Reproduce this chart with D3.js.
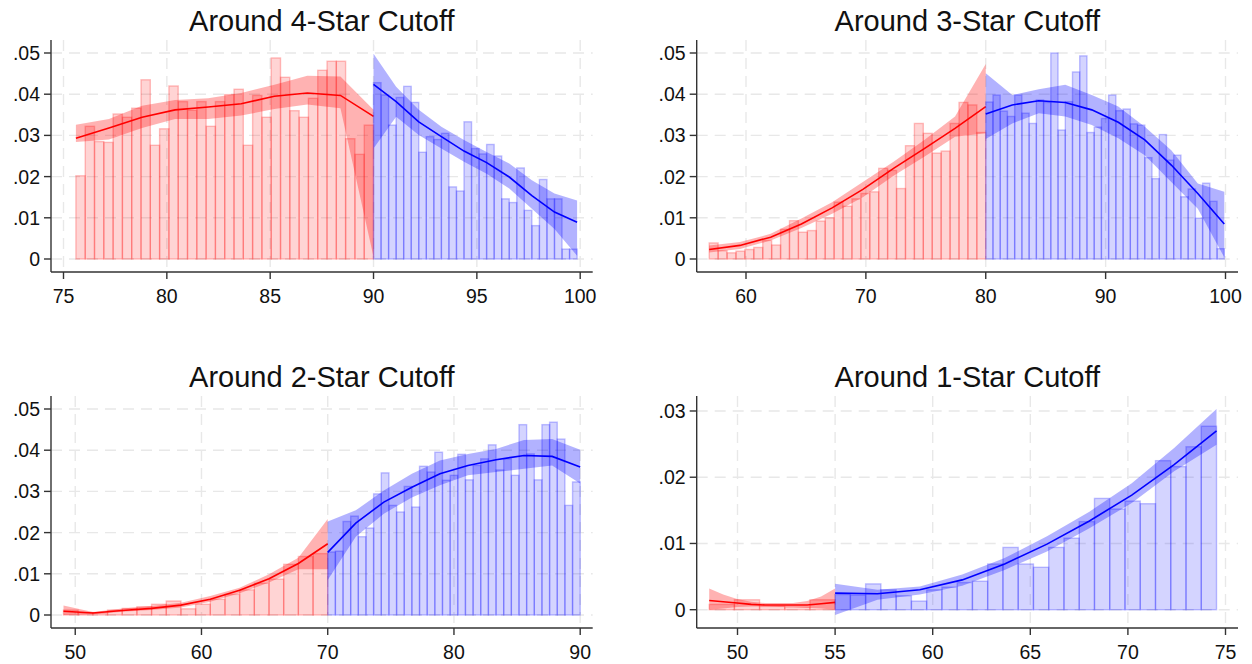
<!DOCTYPE html>
<html><head><meta charset="utf-8">
<script src="https://cdn.jsdelivr.net/npm/d3@7"></script>
<style>body{margin:0;background:#fff;} svg{display:block;font-family:"Liberation Sans",Arial,Helvetica,sans-serif;}</style>
</head><body><svg id="chart" width="1252" height="664"></svg>
<script>
// ---------------- DATA ----------------
const titles = ["Around 4-Star Cutoff", "Around 3-Star Cutoff", "Around 2-Star Cutoff", "Around 1-Star Cutoff"];

const xTicks4 = [75, 80, 85, 90, 95, 100];
const xTicks3 = [60, 70, 80, 90, 100];
const xTicks2 = [50, 60, 70, 80, 90];
const xTicks1 = [50, 55, 60, 65, 70, 75];
const yTicksWide = [0, 0.01, 0.02, 0.03, 0.04, 0.05];
const yTicksNarrow = [0, 0.01, 0.02, 0.03];

// bin ranges [start, end] on each side of the cutoff
const s4Red = [75.6, 90], s4Blue = [90, 99.85];
const s3Red = [56.93, 80], s3Blue = [80, 99.9];
const s2Red = [49.07, 70], s2Blue = [70, 90];
const s1Red = [48.55, 55], s1Blue = [55, 74.54];

// histogram densities
const p4RedBars = [.0202,.0322,.0285,.0283,.0352,.0344,.0366,.0435,.0276,.0316,.0420,.0382,.0361,.0382,.0322,.0382,.0399,.0412,.0276,.0397,.0344,.0488,.0441,.0360,.0344,.0390,.0458,.0480,.0480,.0292,.0254,.0325];
const p4BlueBars = [.0428,.0398,.0325,.0392,.0419,.0380,.0259,.0297,.0290,.0305,.0175,.0165,.0333,.0268,.0255,.0278,.0250,.0146,.0137,.0221,.0118,.0081,.0193,.0146,.0146,.0024,.0024];
const p3RedBars = [.0039,.0020,.0015,.0019,.0023,.0028,.0045,.0034,.0072,.0093,.0065,.0069,.0092,.0100,.0138,.0128,.0146,.0159,.0163,.0220,.0215,.0171,.0275,.0329,.0305,.0257,.0262,.0329,.0380,.0374,.0307];
const p3BlueBars = [.0381,.0398,.0359,.0346,.0398,.0354,.0329,.0386,.0380,.0500,.0313,.0382,.0454,.0493,.0307,.0320,.0341,.0398,.0360,.0364,.0328,.0325,.0246,.0195,.0302,.0240,.0252,.0151,.0170,.0099,.0184,.0140,.0025];
const p2RedBars = [.0012,.0006,.0005,.0012,.0016,.0020,.0026,.0034,.0015,.0026,.0038,.0050,.0061,.0077,.0087,.0123,.0142,.0149];
const p2BlueBars = [.0153,.0155,.0227,.0240,.0190,.0211,.0294,.0345,.0266,.0250,.0312,.0262,.0361,.0347,.0395,.0327,.0339,.0390,.0328,.0363,.0379,.0413,.0352,.0379,.0339,.0462,.0391,.0328,.0462,.0468,.0427,.0266,.0323];
const p1RedBars = [.0008,.0015,.0005,.0004,.0015];
const p1BlueBars = [.0023,.0022,.0039,.0030,.0021,.0013,.0030,.0034,.0041,.0043,.0069,.0094,.0069,.0064,.0094,.0108,.0133,.0168,.0152,.0164,.0160,.0225,.0216,.0246,.0277];

// local-polynomial fits (10 evaluation points per side) with CI bounds
const p4RedFit = [.0293,.0318,.0344,.0362,.0369,.0377,.0395,.0403,.0397,.0346];
const p4RedLo  = [.0284,.0290,.0318,.0340,.0340,.0348,.0364,.0375,.0366,.0005];
const p4RedHi  = [.0326,.0340,.0372,.0386,.0390,.0403,.0423,.0445,.0443,.0362];
const p4BlueFit = [.0424,.0382,.0333,.0297,.0262,.0234,.0199,.0154,.0114,.0089];
const p4BlueLo  = [.0268,.0345,.0301,.0268,.0236,.0207,.0171,.0122,.0073,.0008];
const p4BlueHi  = [.0498,.0418,.0362,.0321,.0289,.0260,.0232,.0191,.0159,.0142];

const p3RedFit = [.0023,.0033,.0053,.0085,.0124,.0169,.0220,.0268,.0317,.0370];
const p3RedLo  = [.0016,.0024,.0045,.0075,.0110,.0150,.0202,.0248,.0297,.0305];
const p3RedHi  = [.0033,.0041,.0061,.0098,.0138,.0187,.0236,.0289,.0346,.0473];
const p3BlueFit = [.0352,.0374,.0384,.0380,.0362,.0332,.0289,.0228,.0159,.0085];
const p3BlueLo  = [.0291,.0329,.0354,.0346,.0325,.0293,.0252,.0187,.0122,.0004];
const p3BlueHi  = [.0451,.0398,.0412,.0423,.0398,.0370,.0321,.0264,.0183,.0163];

const p2RedFit = [.0009,.0005,.0011,.0016,.0024,.0038,.0060,.0088,.0125,.0173];
const p2RedLo  = [.0000,.0002,.0008,.0012,.0018,.0032,.0053,.0079,.0111,.0111];
const p2RedHi  = [.0023,.0007,.0016,.0022,.0030,.0046,.0066,.0099,.0139,.0233];
const p2BlueFit = [.0152,.0223,.0274,.0310,.0343,.0363,.0377,.0387,.0385,.0359];
const p2BlueLo  = [.0085,.0190,.0246,.0285,.0315,.0339,.0347,.0355,.0363,.0319];
const p2BlueHi  = [.0227,.0254,.0302,.0343,.0375,.0391,.0403,.0425,.0427,.0401];

const p1RedFit = [.0014,.0012,.0010,.0008,.0007,.0007,.0007,.0007,.0009,.0011];
const p1RedLo  = [.0000,.0002,.0004,.0005,.0005,.0004,.0004,.0003,.0002,.0000];
const p1RedHi  = [.0032,.0023,.0016,.0012,.0010,.0010,.0010,.0013,.0020,.0032];
const p1BlueFit = [.0025,.0024,.0030,.0045,.0069,.0099,.0134,.0173,.0219,.0270];
const p1BlueLo  = [-.0008,.0015,.0023,.0036,.0060,.0088,.0123,.0161,.0209,.0249];
const p1BlueHi  = [.0039,.0030,.0035,.0053,.0078,.0111,.0148,.0191,.0244,.0303];

// ---------------- LAYOUT / STYLE ----------------
const boxes = [
  {x0: 51, x1: 592.7, y0: 40, y1: 272},
  {x0: 696.7, x1: 1238, y0: 40, y1: 272},
  {x0: 51, x1: 592.7, y0: 396, y1: 628},
  {x0: 696.7, x1: 1238, y0: 396, y1: 628}
];
const padX = 12.5, padY = 13;
const style = {
  red:  {bar: "rgba(255,0,0,0.17)", barStroke: "rgba(255,0,0,0.24)", band: "rgba(255,0,0,0.30)", line: "#ff0000"},
  blue: {bar: "rgba(0,0,255,0.17)", barStroke: "rgba(0,0,255,0.24)", band: "rgba(0,0,255,0.30)", line: "#0000ff"}
};

function side(range, bars, fit, lo, hi) { return {range, bars, fit, lo, hi}; }
const panels = [
  {title: titles[0], xTicks: xTicks4, yTicks: yTicksWide,
   red: side(s4Red, p4RedBars, p4RedFit, p4RedLo, p4RedHi), blue: side(s4Blue, p4BlueBars, p4BlueFit, p4BlueLo, p4BlueHi)},
  {title: titles[1], xTicks: xTicks3, yTicks: yTicksWide,
   red: side(s3Red, p3RedBars, p3RedFit, p3RedLo, p3RedHi), blue: side(s3Blue, p3BlueBars, p3BlueFit, p3BlueLo, p3BlueHi)},
  {title: titles[2], xTicks: xTicks2, yTicks: yTicksWide,
   red: side(s2Red, p2RedBars, p2RedFit, p2RedLo, p2RedHi), blue: side(s2Blue, p2BlueBars, p2BlueFit, p2BlueLo, p2BlueHi)},
  {title: titles[3], xTicks: xTicks1, yTicks: yTicksNarrow,
   red: side(s1Red, p1RedBars, p1RedFit, p1RedLo, p1RedHi), blue: side(s1Blue, p1BlueBars, p1BlueFit, p1BlueLo, p1BlueHi)}
];

const fmt = v => v === 0 ? "0" : d3.format(".2f")(v).replace(/^0/, "");
const svg = d3.select("#chart");
svg.append("rect").attr("width", 1252).attr("height", 664).attr("fill", "#fff");

panels.forEach((p, i) => {
  const b = boxes[i];
  const xMin = Math.min(p.xTicks[0], p.red.range[0]);
  const xMax = Math.max(p.xTicks[p.xTicks.length - 1], p.blue.range[1]);
  const allLo = [...p.red.lo, ...p.blue.lo, 0];
  const allHi = [...p.red.hi, ...p.blue.hi, ...p.red.bars, ...p.blue.bars, p.yTicks[p.yTicks.length - 1]];
  const x = d3.scaleLinear().domain([xMin, xMax]).range([b.x0 + padX, b.x1 - padX]);
  const y = d3.scaleLinear().domain([d3.min(allLo), d3.max(allHi)]).range([b.y1 - padY, b.y0 + padY]);
  const g = svg.append("g");

  // gridlines
  g.selectAll(".hg").data(p.yTicks).join("line")
    .attr("x1", b.x0).attr("x2", b.x1).attr("y1", d => y(d)).attr("y2", d => y(d))
    .attr("stroke", "#e8e8e8").attr("stroke-width", 1.4).attr("stroke-dasharray", "11,7");
  g.selectAll(".vg").data(p.xTicks).join("line")
    .attr("y1", b.y0).attr("y2", b.y1).attr("x1", d => x(d)).attr("x2", d => x(d))
    .attr("stroke", "#e8e8e8").attr("stroke-width", 1.4).attr("stroke-dasharray", "11,7");

  ["red", "blue"].forEach(k => {
    const s = p[k], st = style[k];
    const n = s.bars.length, w = (s.range[1] - s.range[0]) / n;
    g.append("g").selectAll("rect").data(s.bars).join("rect")
      .attr("x", (d, j) => x(s.range[0] + j * w))
      .attr("width", (d, j) => x(s.range[0] + (j + 1) * w) - x(s.range[0] + j * w))
      .attr("y", d => y(d)).attr("height", d => y(0) - y(d))
      .attr("fill", st.bar).attr("stroke", st.barStroke).attr("stroke-width", 1.4);
    const m = s.fit.length;
    const xs = d3.range(m).map(j => s.range[0] + j * (s.range[1] - s.range[0]) / (m - 1));
    const pts = xs.map((xv, j) => ({x: xv, f: s.fit[j], lo: s.lo[j], hi: s.hi[j]}));
    g.append("path").datum(pts)
      .attr("d", d3.area().x(d => x(d.x)).y0(d => y(d.lo)).y1(d => y(d.hi)))
      .attr("fill", st.band);
    g.append("path").datum(pts)
      .attr("d", d3.line().x(d => x(d.x)).y(d => y(d.f)))
      .attr("fill", "none").attr("stroke", st.line).attr("stroke-width", 1.6);
  });

  const ax = g.append("g").attr("stroke", "#333").attr("stroke-width", 1.4);
  ax.append("line").attr("x1", b.x0).attr("x2", b.x0).attr("y1", b.y0).attr("y2", b.y1);
  ax.append("line").attr("x1", b.x0).attr("x2", b.x1).attr("y1", b.y1).attr("y2", b.y1);
  ax.selectAll(".yt").data(p.yTicks).join("line")
    .attr("x1", b.x0 - 7).attr("x2", b.x0).attr("y1", d => y(d)).attr("y2", d => y(d));
  ax.selectAll(".xt").data(p.xTicks).join("line")
    .attr("y1", b.y1).attr("y2", b.y1 + 7).attr("x1", d => x(d)).attr("x2", d => x(d));

  g.selectAll(".yl").data(p.yTicks).join("text")
    .attr("x", b.x0 - 11).attr("y", d => y(d)).attr("dy", "0.36em")
    .attr("text-anchor", "end").attr("font-size", 19.5).attr("fill", "#111").text(fmt);
  g.selectAll(".xl").data(p.xTicks).join("text")
    .attr("x", d => x(d)).attr("y", b.y1 + 31)
    .attr("text-anchor", "middle").attr("font-size", 19.5).attr("fill", "#111").text(d => d);

  g.append("text").attr("x", (b.x0 + b.x1) / 2).attr("y", b.y0 - 9)
    .attr("text-anchor", "middle").attr("font-size", 29).attr("fill", "#111").text(p.title);
});
</script></body></html>
